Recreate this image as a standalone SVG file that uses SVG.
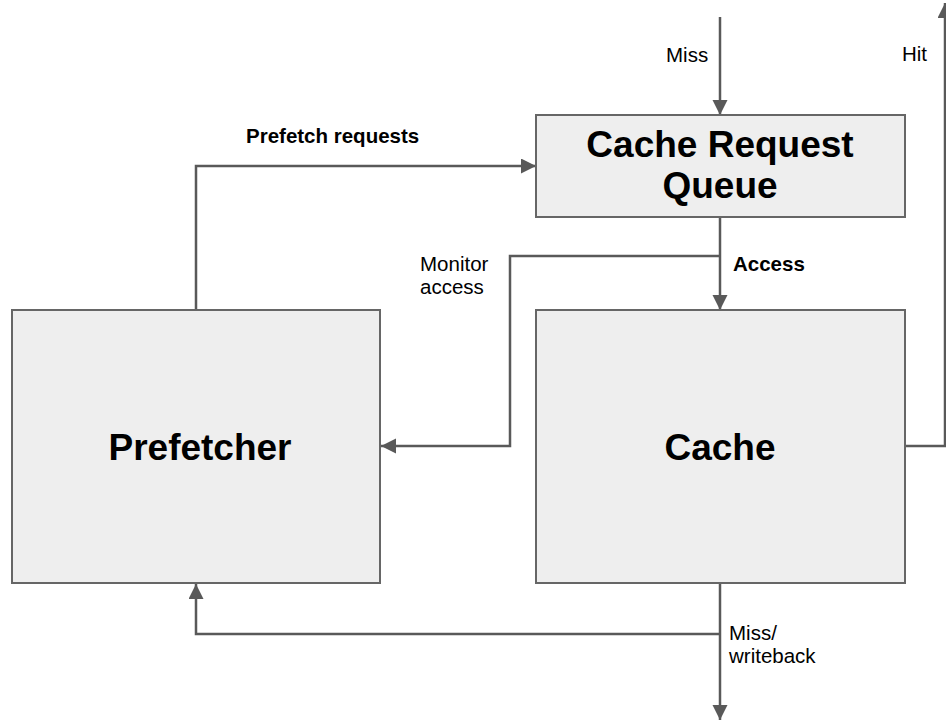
<svg xmlns="http://www.w3.org/2000/svg" width="946" height="725" viewBox="0 0 946 725">
  <style>
    .box { fill: #eeeeee; stroke: #666666; stroke-width: 2; }
    .title { font-family: "Liberation Sans", Arial, sans-serif; font-weight: bold; font-size: 37px; fill: #000; text-anchor: middle; }
    .lbl { font-family: "Liberation Sans", Arial, sans-serif; font-size: 20.5px; fill: #000; }
    .lblb { font-family: "Liberation Sans", Arial, sans-serif; font-size: 20.5px; font-weight: bold; fill: #000; }
    .wire { fill: none; stroke: #595959; stroke-width: 2.5; }
  </style>
  <defs>
    <marker id="arrow" markerUnits="userSpaceOnUse" markerWidth="16" markerHeight="16" refX="15" refY="7.5" orient="auto">
      <path d="M0,0 L15,7.5 L0,15 z" fill="#595959"/>
    </marker>
  </defs>

  <rect width="946" height="725" fill="#ffffff"/>

  <g id="connectors">
    <path class="wire" d="M720,17 V115" marker-end="url(#arrow)"/>
    <path class="wire" d="M196,309 V166 H536" marker-end="url(#arrow)"/>
    <path class="wire" d="M720,217 V310" marker-end="url(#arrow)"/>
    <path class="wire" d="M720,256 H510 V446 H381" marker-end="url(#arrow)"/>
    <path class="wire" d="M905,446 H945 V3" marker-end="url(#arrow)"/>
    <path class="wire" d="M720,583 V720" marker-end="url(#arrow)"/>
    <path class="wire" d="M720,634 H196 V584" marker-end="url(#arrow)"/>
  </g>

  <g id="queue">
    <rect class="box" x="536" y="115" width="369" height="102"/>
    <text class="title" x="720" y="157">Cache Request</text>
    <text class="title" x="720" y="198">Queue</text>
  </g>

  <g id="prefetcher">
    <rect class="box" x="12" y="310" width="368" height="273"/>
    <text class="title" x="200" y="460">Prefetcher</text>
  </g>

  <g id="cache">
    <rect class="box" x="536" y="310" width="369" height="273"/>
    <text class="title" x="720" y="460">Cache</text>
  </g>

  <g id="labels">
    <text class="lbl" x="666" y="62">Miss</text>
    <text class="lbl" x="902" y="61">Hit</text>
    <text class="lblb" x="246" y="143">Prefetch requests</text>
    <text class="lbl" x="420" y="271">Monitor</text>
    <text class="lbl" x="420" y="294">access</text>
    <text class="lblb" x="733" y="271">Access</text>
    <text class="lbl" x="729" y="640">Miss/</text>
    <text class="lbl" x="729" y="663">writeback</text>
  </g>
</svg>
